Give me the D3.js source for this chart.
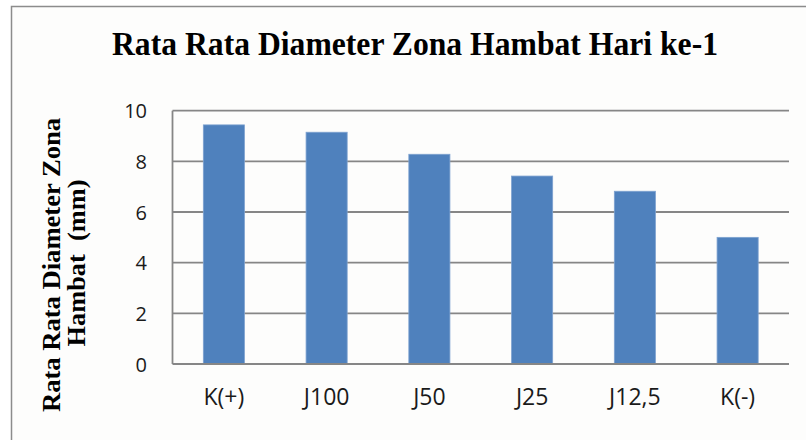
<!DOCTYPE html>
<html>
<head>
<meta charset="utf-8">
<script src="https://cdn.jsdelivr.net/npm/d3@7"></script>
<style>
  html, body { margin: 0; padding: 0; background: #fff; }
  svg { display: block; }
  .tick text { font-family: "Open Sans", "Liberation Sans", sans-serif; fill: #1a1a1a; }
  .y-ax .tick text { font-size: 20px; }
  .x-ax .tick text { font-size: 23px; }
</style>
</head>
<body>
<svg id="chart" width="806" height="440"></svg>
<script>
// ── Data ──────────────────────────────────────────────────────────────────────
const categories = ['K(+)', 'J100', 'J50', 'J25', 'J12,5', 'K(-)'];
const values     = [9.44, 9.15, 8.28, 7.42, 6.82, 5.0];
const yTicks     = [0, 2, 4, 6, 8, 10];
const title      = 'Rata Rata Diameter Zona Hambat Hari ke-1';
const yLabel     = ['Rata Rata Diameter Zona', 'Hambat  (mm)'];

// ── Layout ────────────────────────────────────────────────────────────────────
const W = 806, H = 440;
const m = { left: 172.5, right: 789, top: 110.7, bottom: 364 };
const svg = d3.select('#chart');

// chart frame
svg.append('rect')
  .attr('x', 11.5).attr('y', 6.5).attr('width', W + 10).attr('height', H + 10)
  .attr('fill', '#fdfdfc').attr('stroke', '#8c8c8c').attr('stroke-width', 1.5);

const x = d3.scaleBand().domain(categories).range([m.left, m.right]).paddingInner(0.6).paddingOuter(0.3);
const y = d3.scaleLinear().domain([0, 10]).range([m.bottom, m.top]);

// gridlines
svg.append('g')
  .selectAll('line').data(yTicks.filter(d => d > 0)).join('line')
  .attr('x1', m.left).attr('x2', m.right)
  .attr('y1', d => y(d)).attr('y2', d => y(d))
  .attr('stroke', '#868686').attr('stroke-width', 1.8);

// left plot edge
svg.append('line').attr('x1', m.left).attr('x2', m.left).attr('y1', y(10)).attr('y2', y(0))
  .attr('stroke', '#868686').attr('stroke-width', 1.8);

// bars
svg.append('g')
  .selectAll('rect').data(values).join('rect')
  .attr('x', (d, i) => x(categories[i]))
  .attr('width', x.bandwidth())
  .attr('y', d => y(d))
  .attr('height', d => y(0) - y(d))
  .attr('fill', '#4f81bd')
  .attr('stroke', '#7ea2d0').attr('stroke-width', 0.8);

// baseline
svg.append('line').attr('x1', m.left).attr('x2', m.right).attr('y1', y(0)).attr('y2', y(0))
  .attr('stroke', '#868686').attr('stroke-width', 1.8);

// y axis tick labels
const yAxis = d3.axisLeft(y).tickValues(yTicks).tickSize(0).tickPadding(0).tickFormat(d3.format('d'));
const gy = svg.append('g').attr('class', 'y-ax').attr('transform', 'translate(147,0)').call(yAxis);
gy.select('.domain').remove();
gy.selectAll('text').attr('dy', '0.36em');

// x axis labels
const xAxis = d3.axisBottom(x).tickSize(0).tickPadding(0);
const gx = svg.append('g').attr('class', 'x-ax').attr('transform', 'translate(0,397)').call(xAxis);
gx.select('.domain').remove();
gx.selectAll('text').attr('dy', '0.36em');

// title
svg.append('text')
  .attr('x', 415).attr('y', 55).attr('text-anchor', 'middle')
  .style('font-family', '"Liberation Serif", "Times New Roman", serif')
  .style('font-weight', 'bold').style('font-size', '34px').attr('fill', '#000')
  .attr('textLength', 606).attr('lengthAdjust', 'spacingAndGlyphs')
  .text(title);

// y label (two rotated lines)
svg.append('g').selectAll('text').data(yLabel).join('text')
  .attr('transform', (d, i) => `translate(${60 + i * 25},${i === 0 ? 265 : 263}) rotate(-90)`)
  .attr('text-anchor', 'middle')
  .style('font-family', '"Liberation Serif", "Times New Roman", serif')
  .style('font-weight', 'bold').style('font-size', '25px').attr('fill', '#000')
  .style('white-space', 'pre')
  .attr('textLength', (d, i) => i === 0 ? 294 : 167)
  .attr('lengthAdjust', 'spacingAndGlyphs')
  .text(d => d);
</script>
</body>
</html>
